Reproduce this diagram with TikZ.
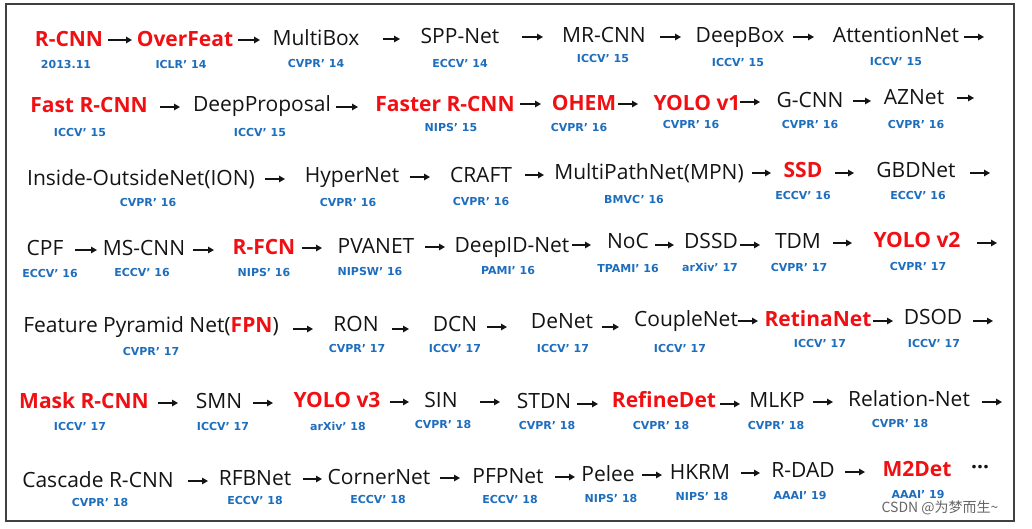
\documentclass[tikz,border=0pt]{standalone}
\usepackage{fontspec}
\setmainfont{Open Sans}
\newfontfamily\cjk{Noto Sans CJK SC}
\newfontfamily\lblfont{DejaVu Sans}
\usetikzlibrary{arrows.meta}
\definecolor{hired}{RGB}{240,16,20}
\definecolor{lblue}{RGB}{30,110,190}
\definecolor{txt}{RGB}{20,20,20}
\tikzset{
  nm/.style={inner sep=0pt, anchor=base, text=txt, font=\fontsize{21}{24}\selectfont},
  hl/.style={inner sep=0pt, anchor=base, text=hired, font=\fontsize{21}{24}\selectfont\bfseries},
  lbl/.style={inner sep=0pt, anchor=center, text=lblue, font=\lblfont\fontsize{11}{13}\selectfont\bfseries},
  arr/.style={draw=txt, line width=1.3pt, -{Triangle[length=6pt,width=6.5pt]}},
  frame/.style={draw=black!75, line width=1.2pt},
}
\newcommand\itm[5]{\node[#5] (#1) at (#2,-#3) {#4};}
\newcommand\lab[4]{\node[lbl] (#1) at (#2,-#3) {#4};}
\newcommand\arw[4]{\coordinate (#1s) at (#2,-#4); \coordinate (#1e) at (#3,-#4); \draw[arr] (#1s) -- (#1e);}
\begin{document}
\begin{tikzpicture}[x=1pt,y=1pt]
\useasboundingbox (0,0) rectangle (1032,-528);
\fill[white] (0,0) rectangle (1032,-528);
\draw[frame] (6,-4) rectangle (1014,-521);
% Row 1
\itm{rcnn}{69}{46}{R-CNN}{hl} \lab{rcnnL}{66}{64}{2013.11}
\arw{a11}{108}{132}{40}
\itm{overfeat}{185}{46}{OverFeat}{hl} \lab{overfeatL}{181}{64}{ICLR’ 14}
\arw{a12}{238}{260}{40}
\itm{multibox}{316}{45}{MultiBox}{nm} \lab{multiboxL}{316}{63}{CVPR’ 14}
\arw{a13}{383}{400}{39}
\itm{sppnet}{460}{43}{SPP-Net}{nm} \lab{sppnetL}{460}{63}{ECCV’ 14}
\arw{a14}{522}{543}{37}
\itm{mrcnn}{604}{42}{MR-CNN}{nm} \lab{mrcnnL}{603}{58}{ICCV’ 15}
\arw{a15}{660}{681}{37}
\itm{deepbox}{740}{42}{DeepBox}{nm} \lab{deepboxL}{738}{62}{ICCV’ 15}
\arw{a16}{793}{814}{37}
\itm{attnet}{896}{42}{AttentionNet}{nm} \lab{attnetL}{896}{61}{ICCV’ 15}
\arw{a17}{964}{984}{37}
% Row 2
\itm{fastrcnn}{89}{112}{Fast R-CNN}{hl} \lab{fastrcnnL}{80}{132}{ICCV’ 15}
\arw{a21}{160}{180}{107}
\itm{deepprop}{262}{111}{DeepProposal}{nm} \lab{deeppropL}{260}{132}{ICCV’ 15}
\arw{a22}{336}{358}{107}
\itm{fasterrcnn}{445}{111}{Faster R-CNN}{hl} \lab{fasterrcnnL}{451}{127}{NIPS’ 15}
\arw{a23}{520}{541}{104}
\itm{ohem}{584}{110}{OHEM}{hl} \lab{ohemL}{579}{127}{CVPR’ 16}
\arw{a24}{618}{638}{104}
\itm{yolo1}{697}{110}{YOLO v1}{hl} \lab{yolo1L}{691}{124}{CVPR’ 16}
\arw{a25}{740}{760}{102}
\itm{gcnn}{810}{107}{G-CNN}{nm} \lab{gcnnL}{810}{124}{CVPR’ 16}
\arw{a26}{853}{871}{101}
\itm{aznet}{914}{104}{AZNet}{nm} \lab{aznetL}{916}{124}{CVPR’ 16}
\arw{a27}{957}{974}{98}
% Row 3
\itm{ion}{141}{185}{Inside-OutsideNet(ION)}{nm} \lab{ionL}{148}{202}{CVPR’ 16}
\arw{a31}{265}{285}{179}
\itm{hypernet}{352}{182}{HyperNet}{nm} \lab{hypernetL}{348}{202}{CVPR’ 16}
\arw{a32}{410}{430}{177}
\itm{craft}{481}{182}{CRAFT}{nm} \lab{craftL}{481}{201}{CVPR’ 16}
\arw{a33}{525}{544}{175}
\itm{mpn}{649}{179}{MultiPathNet(MPN)}{nm} \lab{mpnL}{634}{199}{BMVC’ 16}
\arw{a34}{752}{771}{173}
\itm{ssd}{803}{177}{SSD}{hl} \lab{ssdL}{803}{195}{ECCV’ 16}
\arw{a35}{835}{854}{173}
\itm{gbdnet}{916}{177}{GBDNet}{nm} \lab{gbdnetL}{918}{195}{ECCV’ 16}
\arw{a36}{970}{990}{173}
% Row 4
\itm{cpf}{45}{255}{CPF}{nm} \lab{cpfL}{50}{273}{ECCV’ 16}
\arw{a41}{75}{97}{250}
\itm{mscnn}{144}{255}{MS-CNN}{nm} \lab{mscnnL}{142}{272}{ECCV’ 16}
\arw{a42}{193}{214}{250}
\itm{rfcn}{264}{254}{R-FCN}{hl} \lab{rfcnL}{264}{272}{NIPS’ 16}
\arw{a43}{302}{322}{248}
\itm{pvanet}{376}{253}{PVANET}{nm} \lab{pvanetL}{370}{271}{NIPSW’ 16}
\arw{a44}{425}{445}{247}
\itm{deepid}{512}{252}{DeepID-Net}{nm} \lab{deepidL}{508}{270}{PAMI’ 16}
\arw{a45}{572}{591}{245}
\itm{noc}{628}{248}{NoC}{nm} \lab{nocL}{628}{268}{TPAMI’ 16}
\arw{a46}{655}{674}{245}
\itm{dssd}{711}{248}{DSSD}{nm} \lab{dssdL}{710}{267}{arXiv’ 17}
\arw{a47}{740}{760}{245}
\itm{tdm}{798}{248}{TDM}{nm} \lab{tdmL}{799}{267}{CVPR’ 17}
\arw{a48}{833}{852}{243}
\itm{yolo2}{917}{247}{YOLO v2}{hl} \lab{yolo2L}{918}{266}{CVPR’ 17}
\arw{a49}{977}{997}{243}
% Row 5
\itm{fpn}{151}{332}{Feature Pyramid Net(\textcolor{hired}{\bfseries FPN})}{nm} \lab{fpnL}{151}{351}{CVPR’ 17}
\arw{a51}{293}{313}{329}
\itm{ron}{356}{331}{RON}{nm} \lab{ronL}{357}{348}{CVPR’ 17}
\arw{a52}{392}{409}{329}
\itm{dcn}{455}{331}{DCN}{nm} \lab{dcnL}{455}{348}{ICCV’ 17}
\arw{a53}{487}{507}{327}
\itm{denet}{562}{328}{DeNet}{nm} \lab{denetL}{563}{348}{ICCV’ 17}
\arw{a54}{602}{619}{327}
\itm{couplenet}{686}{326}{CoupleNet}{nm} \lab{couplenetL}{680}{348}{ICCV’ 17}
\arw{a55}{738}{758}{321}
\itm{retina}{818}{326}{RetinaNet}{hl} \lab{retinaL}{820}{343}{ICCV’ 17}
\arw{a56}{873}{893}{321}
\itm{dsod}{933}{324}{DSOD}{nm} \lab{dsodL}{934}{343}{ICCV’ 17}
\arw{a57}{973}{993}{321}
% Row 6
\itm{maskrcnn}{84}{408}{Mask R-CNN}{hl} \lab{maskrcnnL}{80}{426}{ICCV’ 17}
\arw{a61}{158}{178}{403}
\itm{smn}{219}{408}{SMN}{nm} \lab{smnL}{223}{426}{ICCV’ 17}
\arw{a62}{253}{273}{403}
\itm{yolo3}{337}{407}{YOLO v3}{hl} \lab{yolo3L}{338}{426}{arXiv’ 18}
\arw{a63}{390}{409}{402}
\itm{sin}{441}{407}{SIN}{nm} \lab{sinL}{443}{424}{CVPR’ 18}
\arw{a64}{480}{500}{402}
\itm{stdn}{544}{408}{STDN}{nm} \lab{stdnL}{547}{425}{CVPR’ 18}
\arw{a65}{577}{598}{404}
\itm{refinedet}{664}{407}{RefineDet}{hl} \lab{refinedetL}{661}{425}{CVPR’ 18}
\arw{a66}{720}{740}{404}
\itm{mlkp}{777}{407}{MLKP}{nm} \lab{mlkpL}{776}{425}{CVPR’ 18}
\arw{a67}{813}{833}{402}
\itm{relnet}{909}{406}{Relation-Net}{nm} \lab{relnetL}{900}{423}{CVPR’ 18}
\arw{a68}{982}{1002}{402}
% Row 7
\itm{cascade}{98}{487}{Cascade R-CNN}{nm} \lab{cascadeL}{100}{502}{CVPR’ 18}
\arw{a71}{188}{208}{481}
\itm{rfbnet}{255}{485}{RFBNet}{nm} \lab{rfbnetL}{255}{500}{ECCV’ 18}
\arw{a72}{303}{322}{479}
\itm{cornernet}{379}{484}{CornerNet}{nm} \lab{cornernetL}{378}{499}{ECCV’ 18}
\arw{a73}{440}{460}{478}
\itm{pfpnet}{508}{483}{PFPNet}{nm} \lab{pfpnetL}{510}{499}{ECCV’ 18}
\arw{a74}{555}{575}{477}
\itm{pelee}{608}{481}{Pelee}{nm} \lab{peleeL}{611}{498}{NIPS’ 18}
\arw{a75}{642}{662}{475}
\itm{hkrm}{700}{479}{HKRM}{nm} \lab{hkrmL}{702}{496}{NIPS’ 18}
\arw{a76}{741}{760}{473}
\itm{rdad}{803}{477}{R-DAD}{nm} \lab{rdadL}{800}{495}{AAAI’ 19}
\arw{a77}{845}{865}{472}
\itm{m2det}{917}{476}{M2Det}{hl} \lab{m2detL}{918}{494}{AAAI’ 19}
\node[nm] (dots) at (980,-474) {\bfseries ···};
\node[inner sep=0pt, anchor=center, text=black!60, font=\cjk\fontsize{14}{16}\selectfont] (wm) at (940,-508) {CSDN @为梦而生\textasciitilde};
\end{tikzpicture}
\end{document}
